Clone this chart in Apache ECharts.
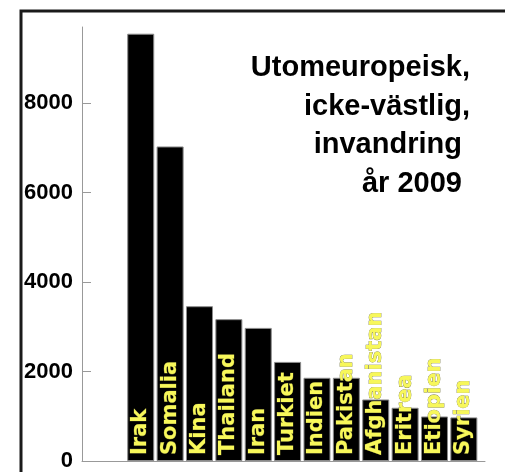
<!DOCTYPE html>
<html>
<head>
<meta charset="utf-8">
<script src="https://cdn.jsdelivr.net/npm/echarts@6/dist/echarts.min.js"></script>
<style>
html,body{margin:0;padding:0;background:#fff;}
#chart{width:505px;height:472px;}
</style>
</head>
<body>
<div id="chart"></div>
<script>
const categories = ["Irak","Somalia","Kina","Thailand","Iran","Turkiet","Indien","Pakistan","Afghanistan","Eritrea","Etiopien","Syrien"];
const values = [9550, 7030, 3460, 3170, 2975, 2215, 1860, 1860, 1375, 1190, 995, 975];
const yTicks = [0, 2000, 4000, 6000, 8000];
const titleLines = ["Utomeuropeisk,", "icke-västlig,", "invandring ", "år 2009 "];

const chart = echarts.init(document.getElementById('chart'), null, {renderer: 'canvas'});
const barData = values.map((v, i) => ({value: [i, v], name: categories[i]}));

chart.setOption({
  animation: false,
  backgroundColor: '#fff',
  grid: {left: 82, right: 20, top: 27, bottom: 11, containLabel: false},
  xAxis: {
    type: 'value', min: -2, max: 11.72,
    axisLine: {show: true, onZero: false, lineStyle: {color: '#999', width: 1}},
    axisTick: {show: false}, axisLabel: {show: false}, splitLine: {show: false}
  },
  yAxis: {
    type: 'value', min: 0, max: 9700, interval: 2000,
    axisLine: {show: true, onZero: false, lineStyle: {color: '#999', width: 1}},
    axisTick: {show: true, inside: true, length: 9, lineStyle: {color: '#999'}, customValues: yTicks.slice(1)},
    axisLabel: {
      customValues: yTicks, margin: 9,
      formatter: v => String(v),
      color: '#000', fontFamily: 'Liberation Sans', fontWeight: 'bold', fontSize: 22
    },
    splitLine: {show: false}
  },
  series: [{
    type: 'bar',
    data: barData,
    barWidth: 27,
    itemStyle: {color: '#000', borderColor: '#8a8a8a', borderWidth: 1},
    label: {
      show: true,
      position: 'insideBottom',
      rotate: 90,
      align: 'left',
      verticalAlign: 'middle',
      distance: 6,
      formatter: p => p.name,
      color: '#f7f75a',
      fontFamily: 'DejaVu Sans',
      fontWeight: 'bold',
      fontSize: 21,
      textBorderColor: '#6a6a30',
      textBorderWidth: 0.6
    }
  }],
  graphic: [
    {
      type: 'rect', silent: true, z: 100,
      shape: {x: 21, y: 11, width: 600, height: 600},
      style: {fill: 'none', stroke: '#1a1a1a', lineWidth: 3}
    },
    {
      type: 'text', z: 100, x: 470, y: 49,
      style: {
        text: titleLines.join('\n'),
        align: 'right', verticalAlign: 'top',
        font: 'bold 29px "Liberation Sans"',
        lineHeight: 38.5,
        fill: '#000'
      }
    }
  ]
});
</script>
</body>
</html>
